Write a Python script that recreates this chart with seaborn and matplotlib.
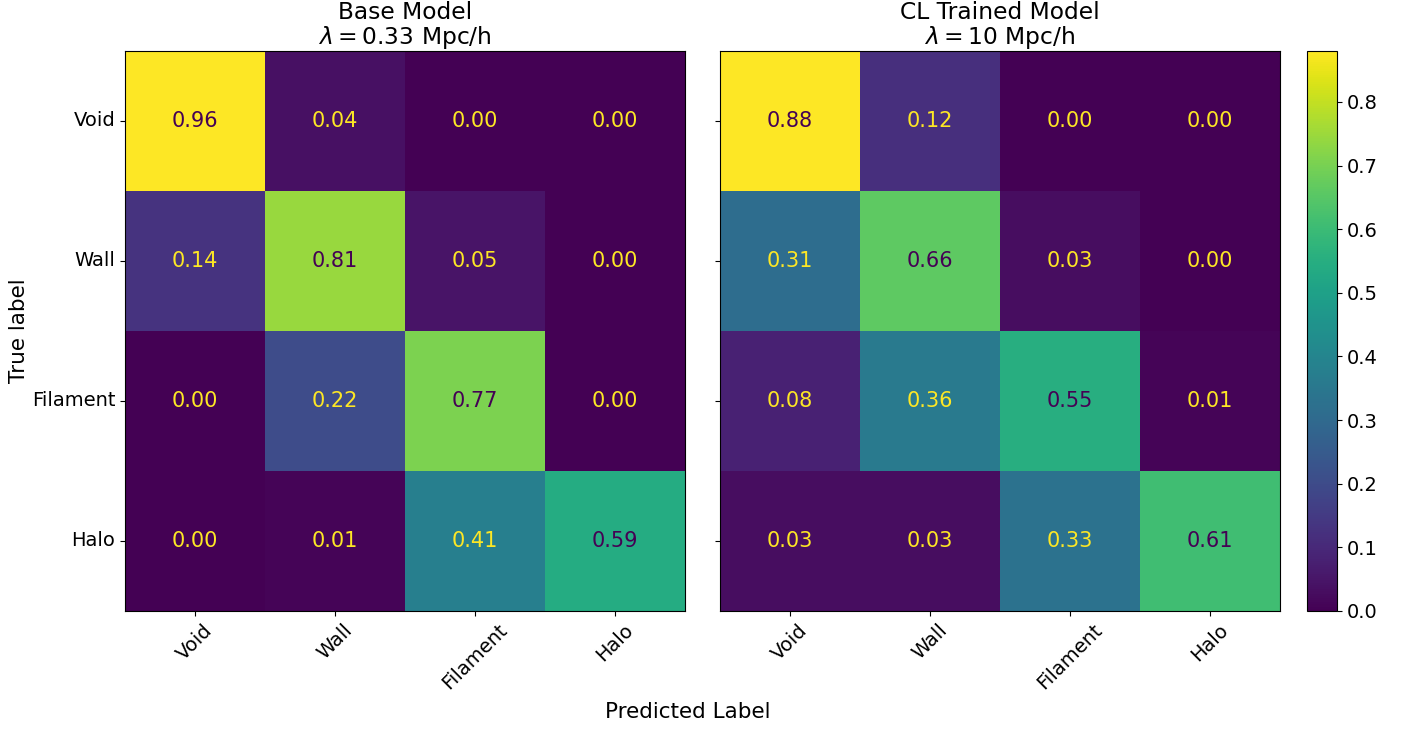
import numpy as np
import matplotlib
matplotlib.use("Agg")
import matplotlib.pyplot as plt
import seaborn as sns

classes = ["Void", "Wall", "Filament", "Halo"]

base_model = [
    [0.96, 0.04, 0.00, 0.00],
    [0.14, 0.81, 0.05, 0.00],
    [0.00, 0.22, 0.77, 0.00],
    [0.00, 0.01, 0.41, 0.59],
]

cl_model = [
    [0.88, 0.12, 0.00, 0.00],
    [0.31, 0.66, 0.03, 0.00],
    [0.08, 0.36, 0.55, 0.01],
    [0.03, 0.03, 0.33, 0.61],
]

titles = ["Base Model\n$\\lambda = 0.33$ Mpc/h", "CL Trained Model\n$\\lambda = 10$ Mpc/h"]

cmap = plt.get_cmap("viridis")

fig = plt.figure(figsize=(14.03, 7.29), dpi=100)
W, H = 1403, 729
ax_left = fig.add_axes([125 / W, (H - 611) / H, 560 / W, 560 / H])
ax_right = fig.add_axes([720 / W, (H - 611) / H, 560 / W, 560 / H])
cax = fig.add_axes([1307 / W, (H - 611) / H, 30 / W, 560 / H])

for i, (ax, mat, title) in enumerate(zip([ax_left, ax_right], [base_model, cl_model], titles)):
    data = np.array(mat)
    vmin, vmax = data.min(), data.max()
    sns.heatmap(
        data, ax=ax, cmap=cmap, vmin=vmin, vmax=vmax,
        annot=True, fmt=".2f", annot_kws={"fontsize": 15},
        cbar=(i == 1), cbar_ax=cax if i == 1 else None,
        xticklabels=classes, yticklabels=classes if i == 0 else False,
        square=False,
    )
    # text colour flips at the midpoint of the colour range
    thresh = (vmax + vmin) / 2.0
    for txt, val in zip(ax.texts, data.flatten()):
        txt.set_color(cmap(0.0) if val >= thresh else cmap(1.0))
    for s in ax.spines.values():
        s.set_visible(True)
        s.set_color("black")
        s.set_linewidth(0.8)
    ax.set_title(title, fontsize=16.8, linespacing=1.0, pad=5)
    ax.tick_params(axis="both", labelsize=14, length=3.5, width=0.8)
    plt.setp(ax.get_xticklabels(), rotation=45, ha="center", rotation_mode="default")
    if i == 0:
        plt.setp(ax.get_yticklabels(), rotation=0)
        ax.set_ylabel("True label", fontsize=15.5, labelpad=2)
    else:
        ax.set_yticks(np.arange(len(classes)) + 0.5)
        ax.set_yticklabels([])

cax.tick_params(labelsize=14)
cax.set_yticks([0.0, 0.1, 0.2, 0.3, 0.4, 0.5, 0.6, 0.7, 0.8])
cb = ax_right.collections[0].colorbar
cb.outline.set_visible(True)
cb.outline.set_edgecolor("black")
cb.outline.set_linewidth(0.8)

fig.text(688 / W, 1 - 712 / H, "Predicted Label", ha="center", va="center", fontsize=15.5)

fig.savefig("out.png", dpi=100)
